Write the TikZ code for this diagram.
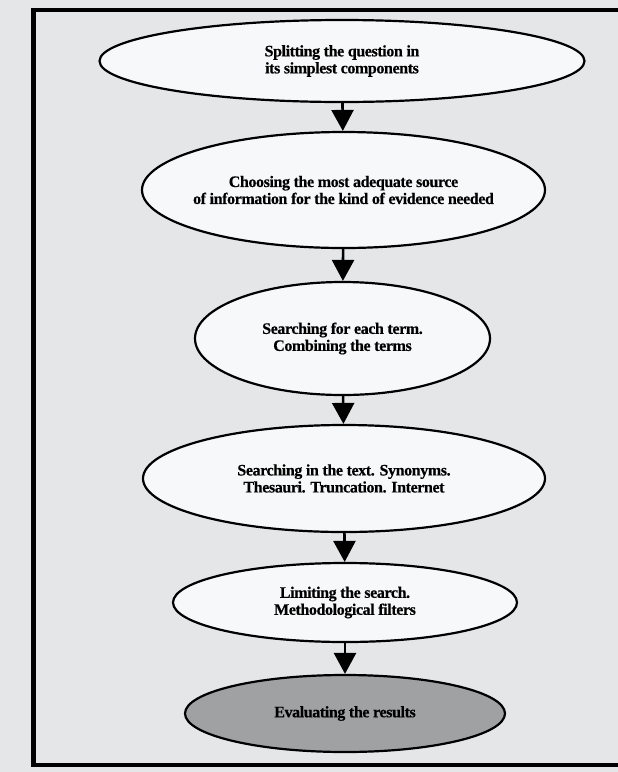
\documentclass[tikz,border=0pt]{standalone}
\usepackage{fontspec}
\setmainfont{Liberation Serif}
\newfontfamily\stepfont[LetterSpace=-2.5, FakeBold=0.4]{Liberation Serif}
\usepackage{xcolor}
\usetikzlibrary{arrows.meta,shapes.geometric}
\definecolor{paperbg}{RGB}{228,230,232}
\definecolor{stagefill}{RGB}{247,248,249}
\definecolor{resultgray}{RGB}{160,161,163}
\tikzset{
  % outer frame
  frameline/.style={line width=4.5pt, black},
  % one step of the search (ellipse)
  stage/.style={
    ellipse,
    draw=black,
    line width=2.2pt,
    fill=stagefill,
    inner sep=0pt
  },
  % last step, shaded
  laststage/.style={stage, fill=resultgray},
  % text inside a step
  steptext/.style={
    align=center,
    inner sep=0pt,
    font=\stepfont\bfseries\fontsize{16}{17}\selectfont
  },
  % arrows between steps
  arr/.style={-{Triangle[width=22pt,length=21pt]}, line width=2.6pt, black},
}

\begin{document}
\begin{tikzpicture}[x=1pt, y=-1pt]
    \fill[paperbg] (0,0) rectangle (618,772);
    \useasboundingbox (0,0) rectangle (618,772);

    % Frame
    \draw[frameline] (618,10) -- (33.5,10) -- (33.5,765) -- (618,765);

    % Steps
    \node[stage, minimum width=485pt, minimum height=82pt] (e1) at (342,61) {};
    \node[stage, minimum width=403pt, minimum height=116pt] (e2) at (343.5,190) {};
    \node[stage, minimum width=295pt, minimum height=113pt] (e3) at (342.5,338.5) {};
    \node[stage, minimum width=402pt, minimum height=107pt] (e4) at (344,478.5) {};
    \node[stage, minimum width=344pt, minimum height=79pt] (e5) at (345,602.5) {};
    \node[laststage, minimum width=320pt, minimum height=77pt] (e6) at (345,713.5) {};

    % Texts
    \node[steptext] (t1) at (e1) {Splitting the question in\\its simplest components};
    \node[steptext] (t2) at (e2) {Choosing the most adequate source\\of information for the kind of evidence needed};
    \node[steptext] (t3) at (e3) {Searching for each term.\\Combining the terms};
    \node[steptext] (t4) at (e4) {Searching in the text. Synonyms.\\Thesauri. Truncation. Internet};
    \node[steptext] (t5) at (e5) {Limiting the search.\\Methodological filters};
    \node[steptext] (t6) at (e6) {Evaluating the results};

    % Arrows
    \draw[arr] (e1) -- (e2);
    \draw[arr] (e2) -- (e3);
    \draw[arr] (e3) -- (e4);
    \draw[arr] (e4) -- (e5);
    \draw[arr] (e5) -- (e6);
\end{tikzpicture}
\end{document}
